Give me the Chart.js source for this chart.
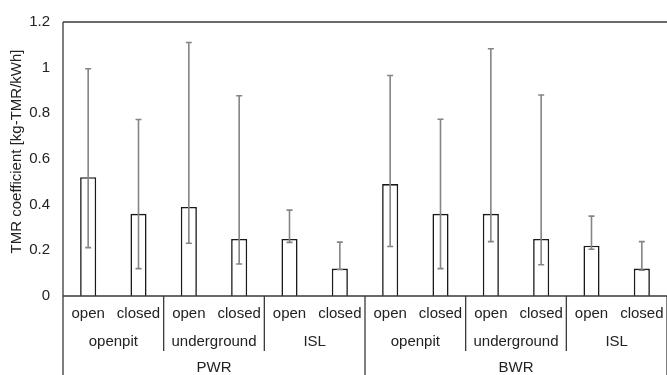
<!DOCTYPE html>
<html>
<head>
<meta charset="utf-8">
<script src="https://cdn.jsdelivr.net/npm/chart.js@4/dist/chart.umd.min.js"></script>
<style>
  html, body { margin: 0; padding: 0; background: #fff; }
  #wrap { width: 667px; height: 375px; position: relative; }
</style>
</head>
<body>
<div id="wrap"><canvas id="c" width="667" height="375"></canvas></div>
<script>
// Mining method / reactor breakdown of the TMR coefficient
const techLabels = ['open', 'closed', 'open', 'closed', 'open', 'closed',
                    'open', 'closed', 'open', 'closed', 'open', 'closed'];
const methodLabels = ['openpit', 'underground', 'ISL', 'openpit', 'underground', 'ISL'];
const reactorLabels = ['PWR', 'BWR'];

// mean values with min / max range
const meanValues = [0.52, 0.36, 0.39, 0.25, 0.25, 0.12, 0.49, 0.36, 0.36, 0.25, 0.22, 0.12];
const maxValues  = [0.995, 0.773, 1.11, 0.877, 0.376, 0.236, 0.966, 0.774, 1.083, 0.88, 0.35, 0.238];
const minValues  = [0.212, 0.12, 0.231, 0.14, 0.235, 0.116, 0.217, 0.12, 0.238, 0.137, 0.205, 0.113];

const yTickLabels = ['0', '0.2', '0.4', '0.6', '0.8', '1', '1.2'];
const yTitle = 'TMR coefficient [kg-TMR/kWh]';

const FONT = '"Liberation Sans", Arial, sans-serif';
const FONT_SIZE = 15;
const TEXT = '#222222';
const LINE = '#3a3a3a';

// error bars: vertical line from min to max with short caps
const errorBars = {
  id: 'errorBars',
  afterDatasetsDraw(chart) {
    const { ctx } = chart;
    const y = chart.scales.y;
    const meta = chart.getDatasetMeta(0);
    ctx.save();
    ctx.strokeStyle = '#858585';
    ctx.lineWidth = 1.6;
    meta.data.forEach((bar, i) => {
      const x = bar.x;
      const yHi = y.getPixelForValue(maxValues[i]);
      const yLo = y.getPixelForValue(minValues[i]);
      ctx.beginPath();
      ctx.moveTo(x, yHi); ctx.lineTo(x, yLo);
      ctx.moveTo(x - 3, yHi); ctx.lineTo(x + 3, yHi);
      ctx.moveTo(x - 3, yLo); ctx.lineTo(x + 3, yLo);
      ctx.stroke();
    });
    ctx.restore();
  }
};

// frame, grouped category labels and the rotated axis title
const frameAndGroups = {
  id: 'frameAndGroups',
  afterDraw(chart) {
    const { ctx, chartArea: a } = chart;
    const xs = chart.scales.x;
    const n = techLabels.length;
    const step = (a.right - a.left) / n;
    const bottom = chart.height;
    const row1 = a.bottom + 18, row2 = a.bottom + 45.5, row3 = a.bottom + 72;
    ctx.save();
    ctx.strokeStyle = LINE;
    ctx.lineWidth = 1.3;
    ctx.beginPath();
    // top border and zero line
    ctx.moveTo(a.left, a.top); ctx.lineTo(a.right, a.top);
    ctx.moveTo(a.left, a.bottom); ctx.lineTo(a.right, a.bottom);
    // left axis line reaching through the label rows
    ctx.moveTo(a.left, a.top); ctx.lineTo(a.left, bottom);
    // method separators
    for (let k = 1; k < methodLabels.length; k++) {
      const sx = a.left + k * 2 * step;
      if (k % 3 === 0) continue;
      ctx.moveTo(sx, a.bottom); ctx.lineTo(sx, a.bottom + 55);
    }
    // reactor separators
    for (let k = 1; k <= reactorLabels.length; k++) {
      const sx = a.left + k * 6 * step;
      ctx.moveTo(sx, a.bottom); ctx.lineTo(sx, bottom);
    }
    ctx.stroke();

    ctx.fillStyle = TEXT;
    ctx.font = FONT_SIZE + 'px ' + FONT;
    ctx.textAlign = 'center';
    ctx.textBaseline = 'middle';
    techLabels.forEach((t, i) => ctx.fillText(t, xs.getPixelForValue(i), row1));
    methodLabels.forEach((t, k) => ctx.fillText(t, a.left + (k * 2 + 1) * step, row2));
    reactorLabels.forEach((t, k) => ctx.fillText(t, a.left + (k * 6 + 3) * step, row3));

    ctx.translate(17, 151.5);
    ctx.rotate(-Math.PI / 2);
    ctx.fillText(yTitle, 0, 0);
    ctx.restore();
  }
};

new Chart(document.getElementById('c'), {
  type: 'bar',
  data: {
    labels: techLabels,
    datasets: [{
      data: meanValues,
      backgroundColor: '#ffffff',
      borderColor: '#1a1a1a',
      borderWidth: 1.6,
      barPercentage: 0.32,
      categoryPercentage: 1.0
    }]
  },
  options: {
    responsive: false,
    animation: false,
    devicePixelRatio: 1,
    layout: { padding: { top: 19, bottom: 79, left: 0, right: 0 } },
    plugins: { legend: { display: false }, tooltip: { enabled: false } },
    scales: {
      x: { display: false },
      y: {
        min: 0, max: 1.2,
        afterFit(scale) { scale.width = 63; },
        grid: { display: false, drawTicks: false },
        border: { display: false },
        ticks: {
          stepSize: 0.2,
          padding: 13,
          color: TEXT,
          font: { family: FONT, size: FONT_SIZE },
          callback: (v) => yTickLabels[Math.round(v / 0.2)]
        }
      }
    }
  },
  plugins: [errorBars, frameAndGroups]
});
</script>
</body>
</html>
